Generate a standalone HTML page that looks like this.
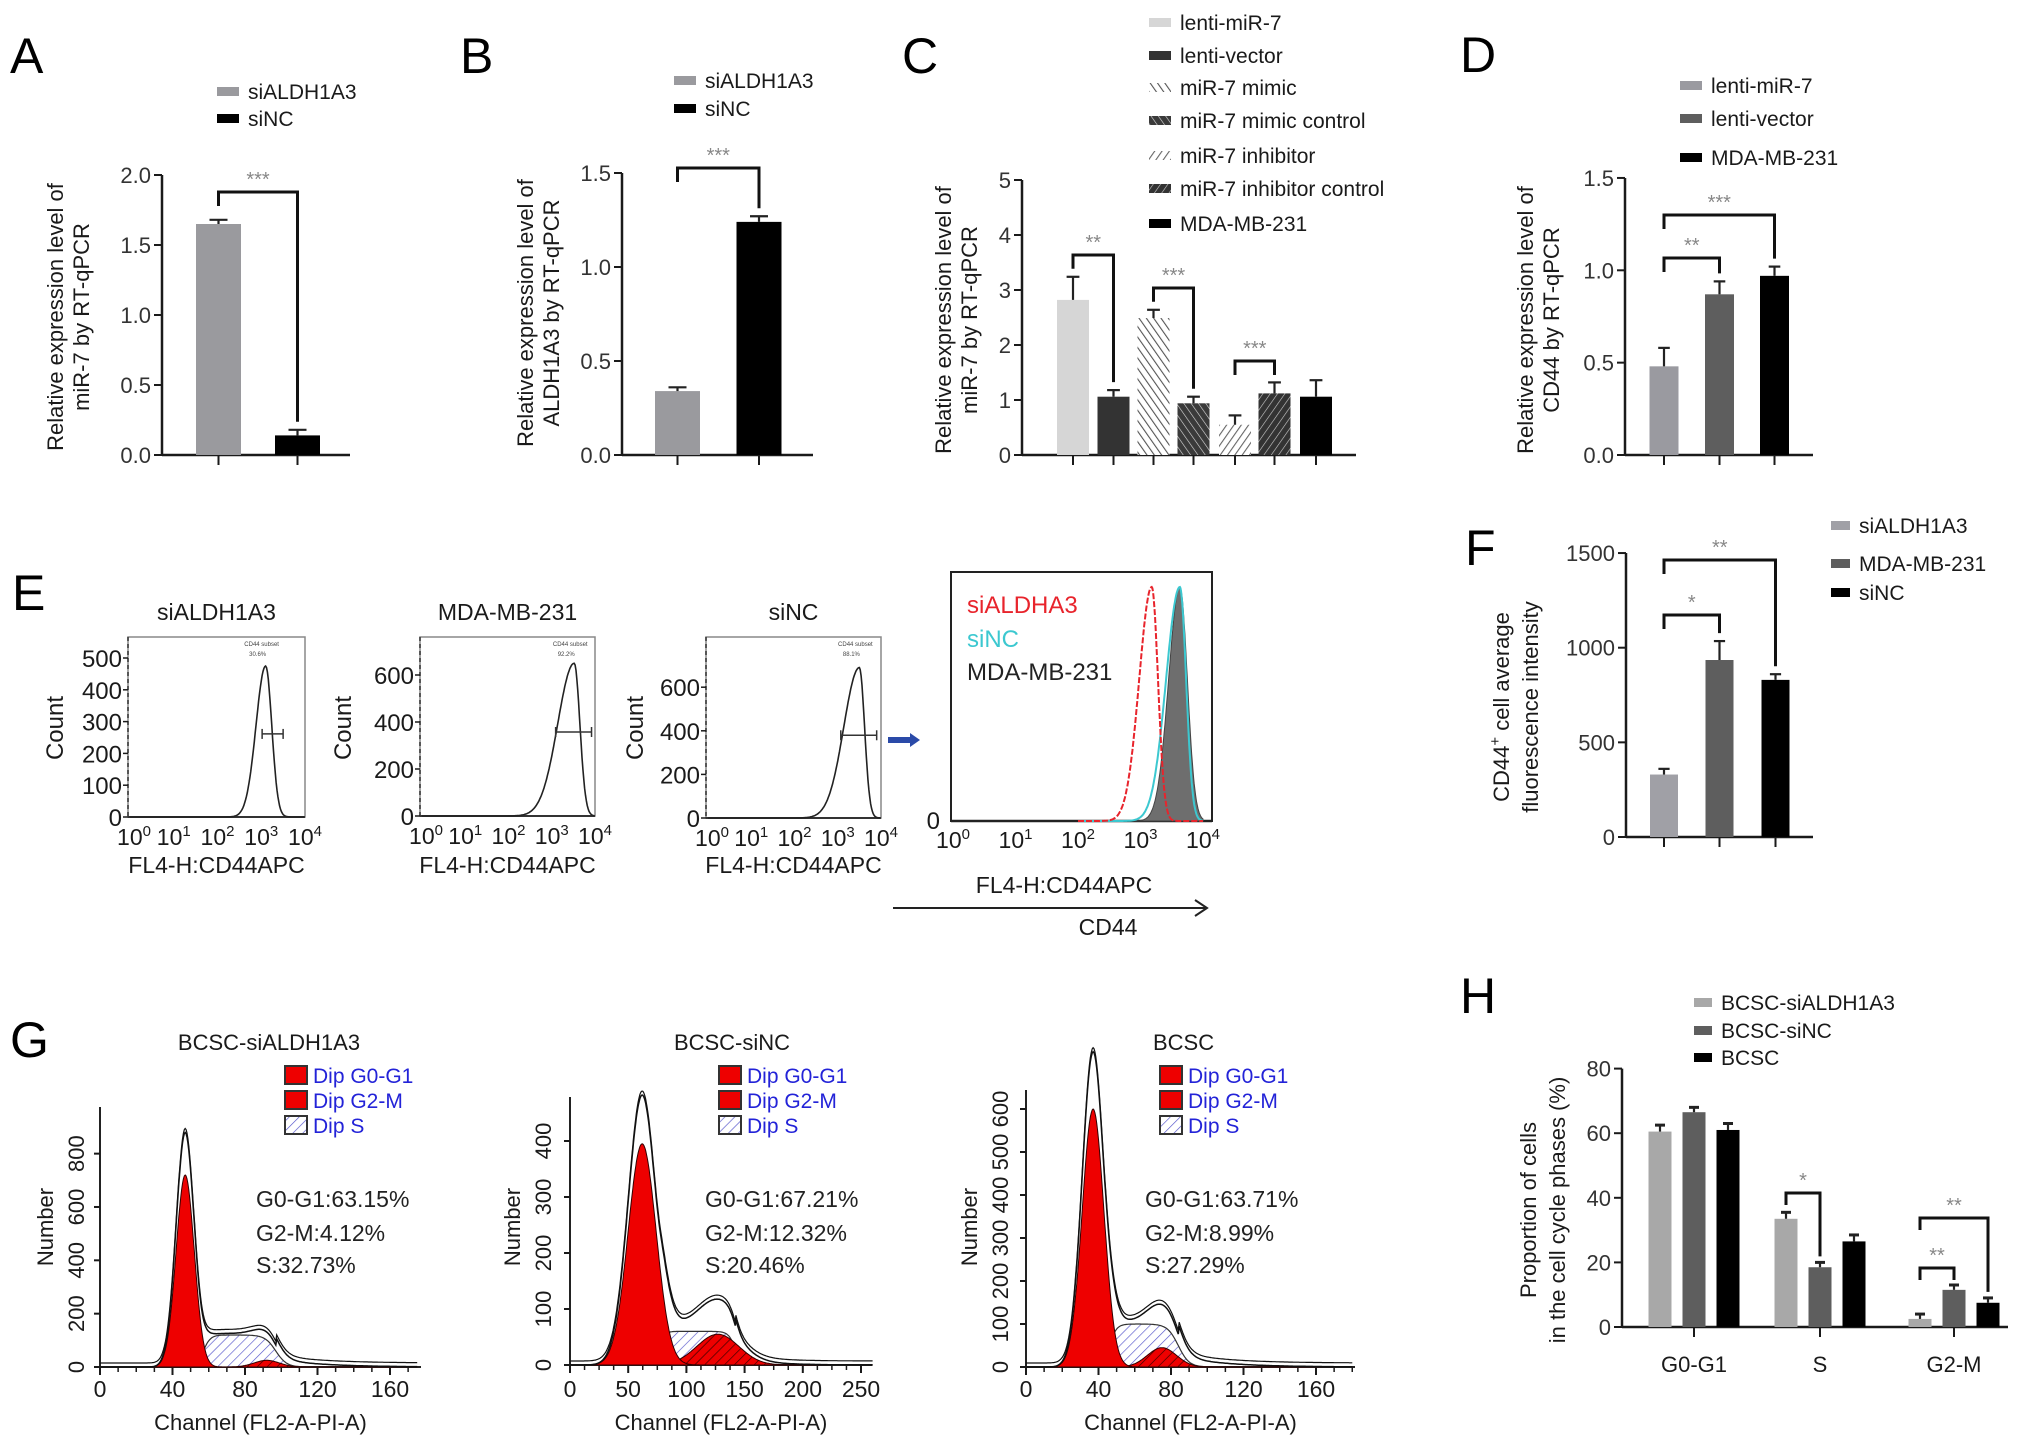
<!DOCTYPE html>
<html><head><meta charset="utf-8"><style>
html,body{margin:0;padding:0;background:#fff;}
svg{display:block;font-family:"Liberation Sans",Arial,sans-serif;}
</style></head><body>
<svg id="fig" xmlns="http://www.w3.org/2000/svg" width="2032" height="1452" viewBox="0 0 2032 1452">
<defs>
<pattern id="hLight" patternUnits="userSpaceOnUse" width="6" height="6" patternTransform="rotate(-35)"><rect width="6" height="6" fill="#fff"/><line x1="0" y1="0" x2="0" y2="6" stroke="#555" stroke-width="2.2"/></pattern>
<pattern id="hDark" patternUnits="userSpaceOnUse" width="6" height="6" patternTransform="rotate(-35)"><rect width="6" height="6" fill="#3a3a3a"/><line x1="0" y1="0" x2="0" y2="6" stroke="#ddd" stroke-width="1.2"/></pattern>
<pattern id="hLight2" patternUnits="userSpaceOnUse" width="6" height="6" patternTransform="rotate(35)"><rect width="6" height="6" fill="#fff"/><line x1="0" y1="0" x2="0" y2="6" stroke="#666" stroke-width="2.2"/></pattern>
<pattern id="hDark2" patternUnits="userSpaceOnUse" width="6" height="6" patternTransform="rotate(35)"><rect width="6" height="6" fill="#333"/><line x1="0" y1="0" x2="0" y2="6" stroke="#ccc" stroke-width="1.2"/></pattern>
<pattern id="redHatch" patternUnits="userSpaceOnUse" width="7" height="7" patternTransform="rotate(45)"><rect width="7" height="7" fill="#e00"/><line x1="0" y1="0" x2="0" y2="7" stroke="#300" stroke-width="1.3"/></pattern>
<pattern id="blueHatch" patternUnits="userSpaceOnUse" width="7" height="7" patternTransform="rotate(45)"><rect width="7" height="7" fill="#fff"/><line x1="0" y1="0" x2="0" y2="7" stroke="#55c" stroke-width="1.3"/></pattern>
</defs>
</svg>
<script>
// ---------- DATA ----------
const aCats=['siALDH1A3','siNC'];
const aVals=[1.65,0.14];
const aErrs=[0.03,0.04];
const bVals=[0.34,1.24];
const bErrs=[0.02,0.03];
const cCats=['lenti-miR-7','lenti-vector','miR-7 mimic','miR-7 mimic control','miR-7 inhibitor','miR-7 inhibitor control','MDA-MB-231'];
const cVals=[2.82,1.06,2.49,0.94,0.55,1.12,1.06];
const cErrs=[0.42,0.12,0.15,0.12,0.17,0.2,0.3];
const dCats=['lenti-miR-7','lenti-vector','MDA-MB-231'];
const dVals=[0.48,0.87,0.97];
const dErrs=[0.1,0.07,0.05];
const fCats=['siALDH1A3','MDA-MB-231','siNC'];
const fVals=[330,935,830];
const fErrs=[30,100,30];
const hCats=['G0-G1','S','G2-M'];
const hSeries=['BCSC-siALDH1A3','BCSC-siNC','BCSC'];
const hVals=[[60.5,33.5,2.5],[66.5,18.5,11.5],[61,26.5,7.5]];
const hErrs=[[2,2,1.5],[1.5,1.5,1.5],[2,2,1.5]];
const abTicks=[0,0.5,1.0,1.5,2.0];
const bTicks=[0,0.5,1.0,1.5];
const cTicks=[0,1,2,3,4,5];
const dTicks=[0,0.5,1.0,1.5];
const fTicks=[0,500,1000,1500];
const hTicks=[0,20,40,60,80];
// flow E: [peak log10, sigma left, sigma right, peak count]
const eTitles=['siALDH1A3','MDA-MB-231','siNC'];
const ePeaks=[[3.1,0.22,0.14,475],[3.52,0.38,0.13,650],[3.5,0.36,0.12,690]];
const eYTicks=[[0,100,200,300,400,500],[0,200,400,600],[0,200,400,600]];
const eGatePct=['30.6%','92.2%','88.1%'];
const ovPeaks=[[3.18,0.2,0.1],[3.63,0.22,0.1],[3.63,0.18,0.12]];
// cell cycle G: G1 [mu,sd,h], S [a,b,h], G2 [mu,sd,h]
const gTitles=['BCSC-siALDH1A3','BCSC-siNC','BCSC'];
const gG1=[[47,5,720],[62,12,395],[37,6,600]];
const gS=[[57,97,120],[78,142,60],[46,84,100]];
const gG2=[[92,7,25],[127,18,55],[75,8,45]];
const gStats=[['G0-G1:63.15%','G2-M:4.12%','S:32.73%'],['G0-G1:67.21%','G2-M:12.32%','S:20.46%'],['G0-G1:63.71%','G2-M:8.99%','S:27.29%']];
const gXTicks=[[0,40,80,120,160],[0,50,100,150,200,250],[0,40,80,120,160]];
const gYTicks=[[0,200,400,600,800],[0,100,200,300,400],[0,100,200,300,400,500,600]];

// ---------- HELPERS ----------
const NS='http://www.w3.org/2000/svg';
const svg=document.getElementById('fig');
function mk(tag,attrs,name){
  const e=document.createElementNS(NS,tag);
  for(const k in attrs) e.setAttribute(k,attrs[k]);
  
  
  svg.appendChild(e);return e;
}
function txt(x,y,s,name,o){
  o=o||{};
  const a={x:x,y:y,'font-size':o.fs||22,'text-anchor':o.anchor||'start',fill:o.fill||'#1a1a1a'};
  if(o.rot) a.transform='rotate(-90 '+x+' '+y+')';
  const e=mk('text',a,name);
  if(o.html) e.innerHTML=s; else e.textContent=s;
  return e;
}
function line(x1,y1,x2,y2,name,sw,col,dash){
  const a={x1,y1,x2,y2,stroke:col||'#1a1a1a','stroke-width':sw||2};
  if(dash)a['stroke-dasharray']=dash;
  return mk('line',a,name);
}
function fmt1(v){return v.toFixed(1);}
function fmt0(v){return String(v);}

function barChart(c){
  const Y=v=>c.y0-v*c.unit;
  const top=Y(c.ticks[c.ticks.length-1]);
  line(c.ax,top,c.ax,c.y0+1,c.p+'-y-axis',2.5);
  line(c.ax,c.y0,c.xEnd,c.y0,c.p+'-x-axis',2.5);
  c.ticks.forEach(t=>{
    line(c.ax-8,Y(t),c.ax,Y(t),c.p+'-y-tick',2);
    txt(c.ax-11,Y(t)+8,c.fmt(t),c.p+'-y-tick-label',{anchor:'end',fs:c.fs||22,fill:'#333'});
  });
  c.vals.forEach((v,i)=>{
    const cx=c.cx[i];
    mk('rect',{x:cx-c.w/2,y:Y(v),width:c.w,height:c.y0-Y(v),fill:c.fills[i]},c.p+'-bar-'+i);
    const et=Y(v+c.errs[i]);
    line(cx,Y(v),cx,et,c.p+'-error-bar',2.2,c.errCol||'#222');
    line(cx-c.w*0.2,et,cx+c.w*0.2,et,c.p+'-error-cap',2.2,c.errCol||'#222');
    if(!c.noTicks) line(cx,c.y0,cx,c.y0+10,c.p+'-x-tick',2);
  });
  (c.brackets||[]).forEach(b=>{
    const [i,j,yt,lab]=b;
    const xi=c.cx[i],xj=c.cx[j];
    const yi=Y(c.vals[i]+c.errs[i])-8,yj=Y(c.vals[j]+c.errs[j])-8;
    mk('path',{d:`M${xi},${Math.min(yi,yt+14)} L${xi},${yt} L${xj},${yt} L${xj},${Math.max(yj,yt+14)}`,fill:'none',stroke:'#111','stroke-width':3},c.p+'-significance-bracket');
    txt((xi+xj)/2,yt-6,lab,c.p+'-significance-stars',{anchor:'middle',fs:20,fill:'#888'});
  });
}
function legend(x,ys,labels,fills,p,fs,sw){
  labels.forEach((l,i)=>{
    mk('rect',{x:x,y:ys[i]-4,width:sw||22,height:9,fill:fills[i]},p+'-legend-swatch');
    txt(x+(sw||22)+9,ys[i]+8,l,p+'-legend-label',{fs:fs||21});
  });
}

// ---------- PANEL A ----------
txt(10,73,'A','panel-label-a',{fs:50,fill:'#000'});
legend(217,[91,118],aCats,['#9a9a9e','#000'],'a');
barChart({p:'a',ax:162,y0:455,unit:140,xEnd:350,ticks:abTicks,fmt:fmt1,cx:[218.5,297.5],w:45,vals:aVals,errs:aErrs,fills:['#9a9a9e','#000'],brackets:[[0,1,192,'***']]});
txt(63,317,'Relative expression level of','a-y-axis-title',{rot:1,anchor:'middle'});
txt(89,317,'miR-7 by RT-qPCR','a-y-axis-title',{rot:1,anchor:'middle'});

// ---------- PANEL B ----------
txt(460,73,'B','panel-label-b',{fs:50,fill:'#000'});
legend(674,[80,108],aCats,['#9a9a9e','#000'],'b');
barChart({p:'b',ax:622,y0:455,unit:188,xEnd:813,ticks:bTicks,fmt:fmt1,cx:[677.5,759],w:45,vals:bVals,errs:bErrs,fills:['#9a9a9e','#000'],brackets:[[0,1,168,'***']]});
txt(533,313,'Relative expression level of','b-y-axis-title',{rot:1,anchor:'middle'});
txt(559,313,'ALDH1A3 by RT-qPCR','b-y-axis-title',{rot:1,anchor:'middle'});

// ---------- PANEL C ----------
txt(902,73,'C','panel-label-c',{fs:50,fill:'#000'});
const cFills=['#d6d6d6','#333','url(#hLight)','url(#hDark)','url(#hLight2)','url(#hDark2)','#000'];
legend(1149,[22,55,87,120,155,188,223],cCats,cFills,'c');
barChart({p:'c',ax:1022,y0:455,unit:55,xEnd:1356,ticks:cTicks,fmt:fmt0,cx:[1073,1113.5,1153.5,1193.5,1235,1274.5,1316],w:32,vals:cVals,errs:cErrs,fills:cFills,brackets:[[0,1,255,'**'],[2,3,288,'***'],[4,5,361,'***']]});
txt(951,320,'Relative expression level of','c-y-axis-title',{rot:1,anchor:'middle'});
txt(977,320,'miR-7 by RT-qPCR','c-y-axis-title',{rot:1,anchor:'middle'});

// ---------- PANEL D ----------
txt(1460,72,'D','panel-label-d',{fs:50,fill:'#000'});
const dFills=['#9a9aa0','#5e5e5e','#000'];
legend(1680,[85,118,157],dCats,dFills,'d');
barChart({p:'d',ax:1625,y0:455,unit:184.7,xEnd:1813,ticks:dTicks,fmt:fmt1,cx:[1664,1719.5,1774.5],w:29,vals:dVals,errs:dErrs,fills:dFills,brackets:[[0,1,258,'**'],[0,2,215,'***']]});
txt(1533,320,'Relative expression level of','d-y-axis-title',{rot:1,anchor:'middle'});
txt(1559,320,'CD44 by RT-qPCR','d-y-axis-title',{rot:1,anchor:'middle'});

// ---------- PANEL E ----------
txt(12,610,'E','panel-label-e',{fs:50,fill:'#000'});
const eBox=[[128,305],[420,595],[706,881]];
const eY0=[817,816,818];
const eScale=[0.318,0.235,0.218];
function asymG(l,p,sl,sr){const s=l<p?sl:sr;return Math.exp(-0.5*Math.pow((l-p)/s,2));}
for(let k=0;k<3;k++){
  const [bx0,bx1]=eBox[k], y0=eY0[k], sc=eScale[k];
  const X=l=>bx0+2+l*((bx1-bx0-2)/4);
  txt((bx0+bx1)/2,620,eTitles[k],'e-plot-title',{anchor:'middle',fs:23});
  mk('rect',{x:bx0,y:637,width:bx1-bx0,height:y0-637,fill:'none',stroke:'#888','stroke-width':1.5},'e-plot-frame');
  line(bx0,637,bx0,y0,'e-y-axis',1.5,'#333','4,3');
  line(bx0,y0,bx1,y0,'e-x-axis',2,'#333');
  eYTicks[k].forEach(t=>{
    line(bx0-5,y0-t*sc,bx0,y0-t*sc,'e-y-tick',1.5);
    txt(bx0-6,y0-t*sc+9,String(t),'e-y-tick-label',{anchor:'end',fs:24});
  });
  [0,1,2,3,4].forEach(d=>{
    txt(X(d)+(d==0?4:0),y0+28,'10<tspan dy="-9" font-size="15">'+d+'</tspan>','e-x-tick-label',{anchor:'middle',fs:23,html:1});
  });
  txt((bx0+bx1)/2,873,'FL4-H:CD44APC','e-x-axis-title',{anchor:'middle',fs:23});
  txt([63,351,643][k],728,'Count','e-y-axis-title',{rot:1,anchor:'middle',fs:24});
  const [pk,sl,sr,h]=ePeaks[k];
  let d='';
  for(let l=0;l<=4;l+=0.02){const v=h*asymG(l,pk,sl,sr);d+=(d?'L':'M')+X(l).toFixed(1)+','+(y0-v*sc).toFixed(1);}
  mk('path',{d:d,fill:'none',stroke:'#222','stroke-width':1.6},'e-histogram-curve');
  const gy=y0-h*sc*0.55;
  const gx0=X(pk-0.08-(k==0?0:0.35)), gx1=X(Math.min(pk+0.4,3.95));
  line(gx0,gy,gx1,gy,'e-gate-bar',1.5,'#333');
  line(gx0,gy-5,gx0,gy+5,'e-gate-end',1.5,'#333');
  line(gx1,gy-5,gx1,gy+5,'e-gate-end',1.5,'#333');
  txt(X(pk)-4,646,'CD44 subset','e-gate-name',{fs:6,anchor:'middle',fill:'#444'});
  txt(X(pk)-8,656,eGatePct[k],'e-gate-percent',{fs:6,anchor:'middle',fill:'#444'});
}
mk('path',{d:'M888,740 L912,740',stroke:'#2a4aa8','stroke-width':6},'e-blue-arrow');
mk('path',{d:'M910,733 L920,740 L910,747 Z',fill:'#2a4aa8'},'e-blue-arrow-head');

// overlay plot
const ovX=l=>953+l*62.5, ovY0=821, ovH=234;
mk('rect',{x:951,y:572,width:261,height:249,fill:'none',stroke:'#222','stroke-width':2},'e-overlay-frame');
line(951,ovY0,1212,ovY0,'e-overlay-x-axis',2.5,'#222');
txt(940,829,'0','e-overlay-y-tick-label',{anchor:'end',fs:24});
[0,1,2,3,4].forEach(d=>{
  txt(ovX(d),848,'10<tspan dy="-9" font-size="15">'+d+'</tspan>','e-overlay-x-tick-label',{anchor:'middle',fs:23,html:1});
});
function ovPath(p,close){
  let d='';
  for(let l=2;l<=4;l+=0.01){const v=ovH*asymG(l,p[0],p[1],p[2]);d+=(d?'L':'M')+ovX(l).toFixed(1)+','+(ovY0-v).toFixed(1);}
  if(close)d+='L'+ovX(4)+','+ovY0+'L'+ovX(2)+','+ovY0+'Z';
  return d;
}
mk('path',{d:ovPath(ovPeaks[2],true),fill:'#6e6e6e',stroke:'#444','stroke-width':1},'e-overlay-mda-mb-231-fill');
mk('path',{d:ovPath(ovPeaks[1],false),fill:'none',stroke:'#3cc8d0','stroke-width':2},'e-overlay-sinc-curve');
mk('path',{d:ovPath(ovPeaks[0],false),fill:'none',stroke:'#e8242c','stroke-width':2,'stroke-dasharray':'6,2'},'e-overlay-sialdh1a3-curve');
txt(967,613,'siALDHA3','e-overlay-legend-red',{fs:24,fill:'#e8242c'});
txt(967,647,'siNC','e-overlay-legend-cyan',{fs:24,fill:'#3cc8d0'});
txt(967,680,'MDA-MB-231','e-overlay-legend-black',{fs:24,fill:'#222'});
txt(1064,893,'FL4-H:CD44APC','e-overlay-x-axis-title',{anchor:'middle',fs:23});
line(893,908,1205,908,'e-cd44-arrow-line',2,'#222');
mk('path',{d:'M1195,900 L1207,908 L1195,916',fill:'none',stroke:'#222','stroke-width':2},'e-cd44-arrow-head');
txt(1108,935,'CD44','e-cd44-label',{anchor:'middle',fs:23});

// ---------- PANEL F ----------
txt(1465,565,'F','panel-label-f',{fs:50,fill:'#000'});
const fFills=['#a0a0a6','#5e5e5e','#000'];
legend(1831,[525,563,592],fCats,fFills,'f',21,19);
barChart({p:'f',ax:1626,y0:837,unit:0.1893,xEnd:1813,ticks:fTicks,fmt:fmt0,cx:[1664,1719.5,1775.5],w:28,vals:fVals,errs:fErrs,fills:fFills,brackets:[[0,1,615,'*'],[0,2,560,'**']]});
txt(1509,707,'CD44<tspan dy="-9" font-size="15">+</tspan><tspan dy="9"> cell average</tspan>','f-y-axis-title',{rot:1,anchor:'middle',html:1});
txt(1538,707,'fluorescence intensity','f-y-axis-title',{rot:1,anchor:'middle'});

// ---------- PANEL G ----------
txt(10,1057,'G','panel-label-g',{fs:50,fill:'#000'});
const gAx=[100,570,1026], gXEnd=[421,872,1355], gY0=[1367,1365,1367], gTop=[1107,1097,1090];
const gXs=[1.8125,1.164,1.8125], gYs=[0.2667,0.56,0.43], gXMax=[175,260,180];
const gTitleX=[269,732,1153], gTitleAnchor=['middle','middle','start'];
const gLegX=[285,719,1160], gStatX=[256,705,1145], gNumX=[53,520,977];
const gLabX=[84,551,1008];
function gauss(x,m,s,h){return h*Math.exp(-0.5*Math.pow((x-m)/s,2));}
function sComp(x,p){return p[2]/(1+Math.exp(-(x-p[0])/2))/(1+Math.exp((x-p[1])/3));}
for(let k=0;k<3;k++){
  const ax=gAx[k],y0=gY0[k],xs=gXs[k],ys=gYs[k];
  const X=c=>ax+c*xs, Y=v=>y0-v*ys;
  txt(gTitleX[k],1050,gTitles[k],'g-plot-title',{anchor:gTitleAnchor[k],fs:22});
  // legend
  const legL=['Dip G0-G1','Dip G2-M','Dip S'], legF=['#e00','#e00','url(#blueHatch)'];
  legL.forEach((l,i)=>{
    const yy=[1075,1100,1125][i];
    mk('rect',{x:gLegX[k],y:yy-9,width:22,height:18,fill:legF[i],stroke:'#333','stroke-width':2},'g-legend-swatch');
    txt(gLegX[k]+28,yy+8,l,'g-legend-label',{fs:21,fill:'#2323d8'});
  });
  // axes
  line(ax,gTop[k],ax,y0,'g-y-axis',2,'#222');
  line(ax,y0,gXEnd[k],y0,'g-x-axis',2,'#222');
  for(let c=0;X(c)<=gXEnd[k];c+=gXTicks[k][1]/4) line(X(c),y0,X(c),y0+5,'g-x-minor-tick',1.5);
  gXTicks[k].forEach(t=>{line(X(t),y0,X(t),y0+8,'g-x-tick',2);txt(X(t),1397,String(t),'g-x-tick-label',{anchor:'middle',fs:23});});
  gYTicks[k].forEach(t=>{line(ax-6,Y(t),ax,Y(t),'g-y-tick',2);txt(gLabX[k],Y(t),String(t),'g-y-tick-label',{anchor:'middle',fs:22,rot:1});});
  txt(gNumX[k],1227,'Number','g-y-axis-title',{rot:1,anchor:'middle',fs:22});
  txt((ax+gXEnd[k])/2,1430,'Channel (FL2-A-PI-A)','g-x-axis-title',{anchor:'middle',fs:22});
  // curves
  let dS='',d1='',d2='',dE='',dE2='';
  for(let c=0;c<=gXMax[k];c+=0.5){
    const g1=gauss(c,...gG1[k]), g2=gauss(c,...gG2[k]), s=sComp(c,gS[k]);
    const tail=c>gS[k][1]?gS[k][2]*0.25*Math.exp(-(c-gS[k][1])/25):0;
    const env=g1*1.22+s*1.05+g2+tail;
    const pre=c===0?'M':'L';
    dS+=pre+X(c).toFixed(1)+','+Y(s+g2*0).toFixed(1);
    d1+=pre+X(c).toFixed(1)+','+Y(g1).toFixed(1);
    d2+=pre+X(c).toFixed(1)+','+Y(g2).toFixed(1);
    dE+=pre+X(c).toFixed(1)+','+Y(env).toFixed(1);
    dE2+=pre+X(c).toFixed(1)+','+(Y(env)-4).toFixed(1);
  }
  const close='L'+X(gXMax[k])+','+y0+'L'+ax+','+y0+'Z';
  mk('path',{d:dS+close,fill:'url(#blueHatch)',stroke:'#333','stroke-width':1.2},'g-s-phase-area');
  mk('path',{d:d2+close,fill:'url(#redHatch)',stroke:'#300','stroke-width':1},'g-g2-m-area');
  mk('path',{d:d1+close,fill:'#e00',stroke:'#300','stroke-width':1},'g-g0-g1-area');
  mk('path',{d:dE,fill:'none',stroke:'#111','stroke-width':1.5},'g-histogram-envelope');
  mk('path',{d:dE2,fill:'none',stroke:'#111','stroke-width':1.2},'g-histogram-envelope-outer');
  gStats[k].forEach((s,i)=>txt(gStatX[k],[1207,1241,1273][i],s,'g-stat-text',{fs:23,fill:'#222'}));
}

// ---------- PANEL H ----------
txt(1460,1013,'H','panel-label-h',{fs:50,fill:'#000'});
const hFills=['#a8a8a8','#5e5e5e','#000'];
legend(1694,[1002,1030,1057],hSeries,hFills,'h',21,18);
(function(){
  const ax=1622,y0=1327,unit=3.23,centers=[1694,1820,1954],off=[-34,0,34],w=23;
  const Y=v=>y0-v*unit;
  line(ax,Y(80),ax,y0+1,'h-y-axis',2.5);
  line(ax,y0,2008,y0,'h-x-axis',2.5);
  hTicks.forEach(t=>{line(ax-8,Y(t),ax,Y(t),'h-y-tick',2);txt(ax-11,Y(t)+8,String(t),'h-y-tick-label',{anchor:'end',fs:22,fill:'#333'});});
  hCats.forEach((c,ci)=>{
    line(centers[ci],y0,centers[ci],y0+10,'h-x-tick',2);
    txt(centers[ci],1372,c,'h-x-tick-label',{anchor:'middle',fs:22});
    hSeries.forEach((s,si)=>{
      const v=hVals[si][ci],e=hErrs[si][ci],cx=centers[ci]+off[si];
      mk('rect',{x:cx-w/2,y:Y(v),width:w,height:y0-Y(v),fill:hFills[si]},'h-bar');
      line(cx,Y(v),cx,Y(v+e),'h-error-bar',2.2,'#222');
      line(cx-5,Y(v+e),cx+5,Y(v+e),'h-error-cap',3,'#222');
    });
  });
  const br=[[1,0,1,1193,'*'],[2,0,1,1268,'**'],[2,0,2,1218,'**']];
  br.forEach(b=>{
    const [ci,i,j,yt,lab]=b;
    const xi=centers[ci]+off[i],xj=centers[ci]+off[j];
    const yi=Y(hVals[i][ci]+hErrs[i][ci])-6,yj=Y(hVals[j][ci]+hErrs[j][ci])-6;
    mk('path',{d:`M${xi},${Math.min(yi,yt+12)} L${xi},${yt} L${xj},${yt} L${xj},${Math.max(yj,yt+12)}`,fill:'none',stroke:'#111','stroke-width':3},'h-significance-bracket');
    txt((xi+xj)/2,yt-6,lab,'h-significance-stars',{anchor:'middle',fs:20,fill:'#888'});
  });
  txt(1536,1210,'Proportion of cells','h-y-axis-title',{rot:1,anchor:'middle'});
  txt(1565,1210,'in the cell cycle phases (%)','h-y-axis-title',{rot:1,anchor:'middle'});
})();
</script>
</body></html>
